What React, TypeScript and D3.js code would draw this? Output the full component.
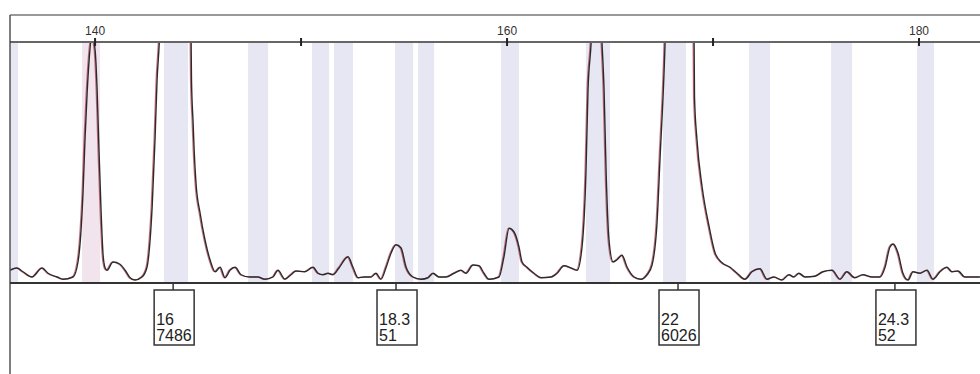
import React, { useEffect, useRef } from 'react';
import * as d3 from 'd3';

// trace: fragment size (bp) and signal (RFU)
const traceBp = [
  135.87, 136.21, 136.5, 136.94, 137.43, 137.72, 138.16, 138.45, 138.93, 139.17,
  139.32, 139.42, 139.51, 139.61, 139.71, 139.85, 140.0, 140.1, 140.19, 140.29,
  140.39, 140.49, 140.58, 140.87, 141.21, 141.46, 141.7, 141.94, 142.28, 142.52,
  142.67, 142.77, 142.91, 143.01, 143.11, 143.2, 143.5, 143.79, 144.13, 144.51,
  144.66, 144.68, 144.76, 144.81, 144.9, 145.1, 145.34, 145.58, 145.83, 146.07,
  146.31, 146.55, 146.8, 147.09, 147.52, 147.91, 148.25, 148.64, 148.88, 149.22,
  149.51, 149.76, 150.19, 150.58, 150.83, 151.07, 151.31, 151.55, 151.84, 152.28,
  152.52, 152.77, 153.06, 153.4, 153.64, 153.88, 154.13, 154.37, 154.61, 154.85,
  155.1, 155.44, 155.83, 156.17, 156.41, 156.7, 157.04, 157.43, 157.77, 158.01,
  158.35, 158.64, 158.88, 159.13, 159.61, 159.85, 160.1, 160.34, 160.58, 160.73,
  160.97, 161.31, 161.65, 162.14, 162.43, 162.77, 163.11, 163.4, 163.64, 163.83,
  163.93, 164.08, 164.17, 164.32, 164.51, 164.61, 164.71, 164.81, 164.95, 165.15,
  165.34, 165.58, 165.83, 166.17, 166.5, 166.8, 167.04, 167.28, 167.43, 167.62,
  167.67, 167.91, 168.3, 168.79, 169.03, 169.08, 169.1, 169.22, 169.47, 169.81,
  170.1, 170.44, 170.83, 171.17, 171.55, 171.89, 172.28, 172.62, 172.96, 173.35,
  173.69, 173.93, 174.17, 174.47, 174.95, 175.34, 175.78, 176.17, 176.5, 176.89,
  177.28, 177.72, 178.11, 178.35, 178.59, 178.74, 178.98, 179.22, 179.47, 179.71,
  180.05, 180.39, 180.68, 181.02, 181.36, 181.6, 181.89, 182.23, 182.62, 182.96,
];
const traceRfu = [
  17, 20, 15, 8, 20, 13, 8, 5, 8, 28,
  71, 124, 191, 251, 297, 330, 311, 257, 177, 97,
  37, 20, 17, 28, 25, 17, 7, 4, 8, 21,
  57, 101, 191, 271, 317, 377, 1800, 7486, 1800, 600,
  330, 271, 213, 177, 133, 93, 57, 31, 15, 21,
  7, 17, 21, 11, 8, 8, 5, 8, 17, 5,
  11, 16, 15, 21, 13, 11, 13, 11, 20, 35,
  21, 7, 8, 8, 13, 5, 21, 40, 51, 47,
  21, 8, 5, 7, 13, 8, 8, 13, 17, 13,
  24, 23, 13, 5, 8, 35, 73, 68, 48, 28,
  21, 13, 7, 8, 13, 23, 20, 17, 48, 147,
  257, 320, 380, 1500, 380, 320, 257, 147, 57, 28,
  31, 37, 21, 8, 5, 11, 24, 80, 168, 280,
  320, 900, 6026, 900, 340, 320, 248, 191, 128, 75,
  40, 27, 21, 13, 5, 15, 19, 5, 8, 4,
  11, 8, 13, 8, 9, 15, 17, 5, 15, 7,
  11, 8, 8, 21, 48, 52, 40, 13, 4, 15,
  13, 17, 5, 15, 21, 15, 16, 8, 8, 8,
];

// allele bins (bp)
const binStart = [135.8, 139.37, 143.35, 147.43, 150.53, 151.6, 154.56, 155.68, 159.71, 163.83, 167.57, 171.75, 175.73, 179.9];
const binEnd = [136.26, 140.24, 144.51, 148.4, 151.36, 152.52, 155.44, 156.46, 160.58, 165.0, 168.69, 172.77, 176.75, 180.73];

const tickValues = [140, 150, 160, 170, 180];
const tickLabels = ['140', '', '160', '', '180'];

// called alleles
const alleleNames = ['16', '18.3', '22', '24.3'];
const alleleBp = [143.79, 154.61, 168.3, 178.83];
const alleleHeights = ['7486', '51', '6026', '52'];

export default function App() {
  const ref = useRef<SVGSVGElement>(null);

  useEffect(() => {
    const W = 980, H = 374;
    const left = 10, top = 43, base = 283;
    const svg = d3.select(ref.current);
    svg.selectAll('*').remove();

    const x = d3.scaleLinear().domain([135.87, 182.96]).range([left, W]);
    const y = d3.scaleLinear().domain([0, 320]).range([base, top]);

    svg.append('rect').attr('width', W).attr('height', H).attr('fill', '#fff');

    svg.append('clipPath').attr('id', 'plot')
      .append('rect').attr('x', left).attr('y', top).attr('width', W - left).attr('height', base - top);

    // bins
    svg.append('g').attr('clip-path', 'url(#plot)')
      .selectAll('rect').data(binStart).enter().append('rect')
      .attr('x', d => x(d))
      .attr('y', top)
      .attr('width', (d, i) => x(binEnd[i]) - x(d))
      .attr('height', base - top)
      .attr('fill', (d, i) => (i === 1 ? '#f1e4ec' : '#e6e7f3'));

    const pts = traceBp.map((b, i) => [b, traceRfu[i]] as [number, number]);
    const line = d3.line<[number, number]>()
      .x(d => x(d[0]))
      .y(d => y(d[1]))
      .curve(d3.curveMonotoneX);

    const tr = svg.append('g').attr('clip-path', 'url(#plot)');
    tr.append('path').attr('d', line(pts)).attr('fill', 'none')
      .attr('stroke', '#b23a4c').attr('stroke-width', 1.2).attr('opacity', 0.7)
      .attr('transform', 'translate(-1,0)');
    tr.append('path').attr('d', line(pts)).attr('fill', 'none')
      .attr('stroke', '#2d2a2c').attr('stroke-width', 1.4).attr('stroke-linejoin', 'round');

    // frame
    svg.append('line').attr('x1', left).attr('x2', W).attr('y1', 15).attr('y2', 15)
      .attr('stroke', '#777').attr('stroke-width', 1.5);
    svg.append('line').attr('x1', left).attr('x2', left).attr('y1', 15).attr('y2', H)
      .attr('stroke', '#555').attr('stroke-width', 1.5);
    svg.append('line').attr('x1', left).attr('x2', W).attr('y1', 42).attr('y2', 42)
      .attr('stroke', '#333').attr('stroke-width', 1.6);
    svg.append('line').attr('x1', left).attr('x2', W).attr('y1', base).attr('y2', base)
      .attr('stroke', '#333').attr('stroke-width', 2);

    // size axis
    const ax = svg.append('g');
    ax.selectAll('line').data(tickValues).enter().append('line')
      .attr('x1', d => x(d)).attr('x2', d => x(d))
      .attr('y1', 38).attr('y2', 46)
      .attr('stroke', '#222').attr('stroke-width', 2);
    ax.selectAll('text').data(tickValues).enter().append('text')
      .attr('x', d => x(d)).attr('y', 35)
      .attr('text-anchor', 'middle')
      .attr('font-family', 'Liberation Sans, Arial, sans-serif')
      .attr('font-size', 12).attr('fill', '#333')
      .text((d, i) => tickLabels[i]);

    // allele labels
    const lab = svg.append('g').selectAll('g').data(alleleBp).enter().append('g')
      .attr('transform', d => `translate(${x(d)},0)`);
    lab.append('line').attr('x1', 0).attr('x2', 0).attr('y1', base).attr('y2', 290)
      .attr('stroke', '#333').attr('stroke-width', 1.5);
    lab.append('rect').attr('x', -19).attr('y', 290).attr('width', 40).attr('height', 55)
      .attr('fill', '#fff').attr('stroke', '#333').attr('stroke-width', 1.5);
    lab.append('text').attr('x', -17).attr('y', 325)
      .attr('font-family', 'Liberation Sans, Arial, sans-serif')
      .attr('font-size', 16).attr('fill', '#222')
      .text((d, i) => alleleNames[i]);
    lab.append('text').attr('x', -17).attr('y', 341)
      .attr('font-family', 'Liberation Sans, Arial, sans-serif')
      .attr('font-size', 16).attr('fill', '#222')
      .text((d, i) => alleleHeights[i]);
  }, []);

  return (
    <svg ref={ref} width={980} height={374}
      style={{ position: 'absolute', left: 0, top: 0, display: 'block' }} />
  );
}
